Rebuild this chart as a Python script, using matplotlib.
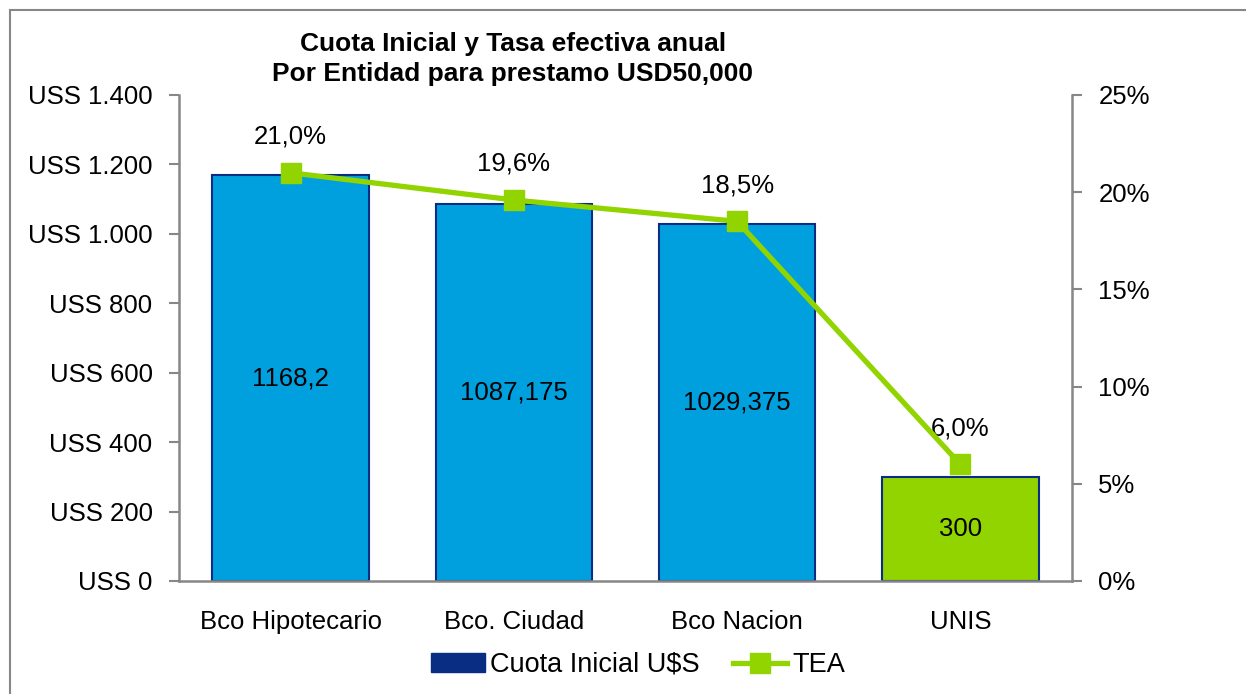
import matplotlib
matplotlib.use("Agg")
import matplotlib.pyplot as plt
from matplotlib.patches import Rectangle, Patch
from matplotlib.lines import Line2D

plt.rcParams['font.family'] = ['Liberation Sans', 'DejaVu Sans']

categories = ["Bco Hipotecario", "Bco. Ciudad", "Bco Nacion", "UNIS"]
cuota = [1168.2, 1087.175, 1029.375, 300]
cuota_labels = ["1168,2", "1087,175", "1029,375", "300"]
tea = [0.210, 0.196, 0.185, 0.060]
tea_labels = ["21,0%", "19,6%", "18,5%", "6,0%"]
left_ticks = [0, 200, 400, 600, 800, 1000, 1200, 1400]
left_tick_labels = ["USS 0", "USS 200", "USS 400", "USS 600", "USS 800",
                    "USS 1.000", "USS 1.200", "USS 1.400"]
right_ticks = [0, 0.05, 0.10, 0.15, 0.20, 0.25]
right_tick_labels = ["0%", "5%", "10%", "15%", "20%", "25%"]

W, H = 1246, 694
fig = plt.figure(figsize=(W / 100, H / 100), dpi=100)
ax = fig.add_axes([179 / W, 1 - 581 / H, (1072 - 179) / W, (581 - 95) / H])

blue = "#00A0DF"
green = "#92D400"
navy = "#0A2D84"
grey = "#878787"

x = list(range(len(categories)))
colors = [blue, blue, blue, green]
ax.bar(x, cuota, width=0.7, color=colors, edgecolor=navy, linewidth=1.5, zorder=2)
ax.set_xlim(-0.5, len(categories) - 0.5)
ax.set_ylim(0, 1400)
ax.set_yticks(left_ticks)
ax.set_yticklabels(left_tick_labels)
ax.set_xticks(x)
ax.set_xticklabels(categories)
ax.tick_params(axis='x', length=0, pad=21, labelsize=18.5)
ax.tick_params(axis='y', length=7, width=1.5, color=grey, pad=12, labelsize=18.5)
for s in ['top', 'right']:
    ax.spines[s].set_visible(False)
for s in ['left', 'bottom']:
    ax.spines[s].set_color(grey)
    ax.spines[s].set_linewidth(1.8)

for xi, v, lab in zip(x, cuota, cuota_labels):
    ax.text(xi, v / 2, lab, ha='center', va='center', fontsize=18.5, color='black', zorder=5)

ax2 = ax.twinx()
ax2.set_ylim(0, 0.25)
ax2.plot(x, tea, color=green, linewidth=3.8, marker='s', markersize=15,
         markerfacecolor=green, markeredgecolor=green, zorder=4)
ax2.set_yticks(right_ticks)
ax2.set_yticklabels(right_tick_labels)
ax2.tick_params(axis='y', length=7, width=1.5, color=grey, pad=12, labelsize=18.5)
for s in ['top', 'left', 'bottom']:
    ax2.spines[s].set_visible(False)
ax2.spines['right'].set_color(grey)
ax2.spines['right'].set_linewidth(1.8)

for xi, v, lab in zip(x, tea, tea_labels):
    ax2.annotate(lab, (xi, v), xytext=(0, 26), textcoords='offset points',
                 ha='center', va='center', fontsize=18.5, color='black')

fig.text(513 / W, 1 - 44 / H, "Cuota Inicial y Tasa efectiva anual",
         ha='center', va='center', fontsize=19, fontweight='bold')
fig.text(513 / W, 1 - 74 / H, "Por Entidad para prestamo USD50,000",
         ha='center', va='center', fontsize=19, fontweight='bold')

handles = [Patch(facecolor=navy, edgecolor=navy),
           Line2D([0], [0], color=green, linewidth=3.8, marker='s', markersize=15)]
fig.legend(handles, ["Cuota Inicial U$S", "TEA"], loc='center',
           bbox_to_anchor=(638 / W, 1 - 665 / H), ncol=2, frameon=False,
           fontsize=19.5, handlelength=2.0, handletextpad=0.2, columnspacing=1.2)

fig.patches.append(Rectangle((10 / W, -0.1), 1.2, 1 - 10 / H + 0.1,
                             transform=fig.transFigure, fill=False,
                             edgecolor=grey, linewidth=1.5))

fig.savefig("out.png", dpi=100)
